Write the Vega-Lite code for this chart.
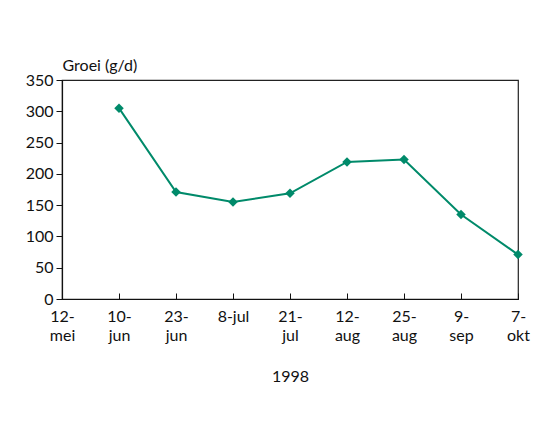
{
  "$schema": "https://vega.github.io/schema/vega-lite/v6.json",
  "width": 456,
  "height": 219,
  "autosize": "none",
  "padding": {"left": 62, "top": 80, "right": 21, "bottom": 137},
  "background": "white",
  "config": {
    "font": "Lato",
    "view": {"stroke": "#222", "strokeWidth": 1.2},
    "axis": {"labelFont": "Lato", "titleFont": "Lato", "labelColor": "#111", "titleColor": "#111", "domainColor": "#111", "tickColor": "#111", "labelFontSize": 16, "titleFontSize": 16, "titleFontWeight": "normal", "grid": false}
  },
  "data": {
    "values": [
      {"datum": "10-|jun", "groei": 305},
      {"datum": "23-|jun", "groei": 171},
      {"datum": "8-jul", "groei": 155},
      {"datum": "21-|jul", "groei": 169},
      {"datum": "12-|aug", "groei": 219},
      {"datum": "25-|aug", "groei": 223},
      {"datum": "9-|sep", "groei": 135},
      {"datum": "7-|okt", "groei": 71}
    ]
  },
  "encoding": {
    "x": {
      "field": "datum",
      "type": "ordinal",
      "sort": null,
      "scale": {"type": "point", "padding": 0, "domain": ["12-|mei", "10-|jun", "23-|jun", "8-jul", "21-|jul", "12-|aug", "25-|aug", "9-|sep", "7-|okt"]},
      "axis": {
        "title": "1998",
        "titlePadding": 25,
        "labelAngle": 0,
        "labelExpr": "split(datum.label, '|')",
        "labelLineHeight": 19,
        "labelPadding": 15,
        "labelBaseline": "top",
        "tickSize": -6,
        "domainWidth": 1.2
      }
    },
    "y": {
      "field": "groei",
      "type": "quantitative",
      "scale": {"domain": [0, 350], "nice": false},
      "axis": {
        "values": [0, 50, 100, 150, 200, 250, 300, 350],
        "title": "Groei (g/d)",
        "titleAngle": 0,
        "titleX": 0,
        "titleY": -7,
        "titleAlign": "left",
        "titleBaseline": "bottom",
        "tickSize": 6,
        "labelPadding": 3,
        "domainWidth": 1.2
      }
    }
  },
  "layer": [
    {
      "mark": {"type": "line", "color": "#008a6a", "strokeWidth": 2}
    },
    {
      "mark": {"type": "point", "shape": "diamond", "filled": true, "color": "#008a6a", "size": 90, "opacity": 1}
    }
  ]
}
